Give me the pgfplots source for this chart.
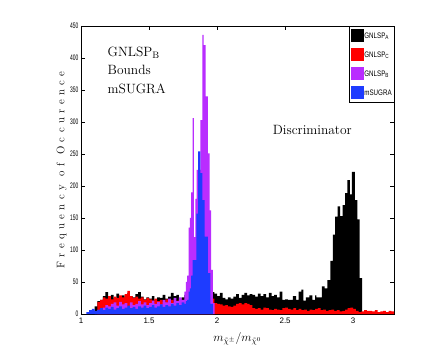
\documentclass[border=0pt]{standalone}
\usepackage{fontspec}
\newfontfamily\hvfont{Liberation Sans}
\newfontfamily\hvnarrow{Liberation Sans}[FakeStretch=0.62]
\newfontfamily\hvleg{Liberation Sans}[FakeStretch=0.78]
\usepackage{pgfplots}
\pgfplotsset{compat=1.18}
\newcommand{\gap}{\hskip 4.4bp}
\newcommand{\wgap}{\hskip 8.5bp}

\definecolor{gnlspa}{RGB}{0,0,0}
\definecolor{gnlspc}{RGB}{255,0,0}
\definecolor{gnlspb}{RGB}{185,45,255}
\definecolor{msugra}{RGB}{30,60,255}

% GNLSP_A
\pgfplotstableread{
x y
1.10 12
1.12 20
1.14 22
1.16 28
1.18 34
1.20 26
1.22 30
1.24 24
1.26 32
1.28 27
1.30 29
1.32 25
1.34 33
1.36 28
1.38 26
1.40 31
1.42 34
1.44 27
1.46 23
1.48 26
1.50 24
1.52 28
1.54 22
1.56 26
1.58 25
1.60 30
1.62 24
1.64 27
1.66 33
1.68 28
1.70 30
1.72 24
1.74 26
1.76 30
1.78 32
1.80 28
1.82 30
1.84 26
1.86 30
1.88 28
1.90 30
1.92 33
1.94 30
1.96 34
1.98 32
2.00 28
2.02 33
2.04 25
2.06 23
2.08 26
2.10 24
2.12 27
2.14 31
2.16 25
2.18 30
2.20 33
2.22 29
2.24 31
2.26 30
2.28 27
2.30 32
2.32 28
2.34 31
2.36 26
2.38 33
2.40 28
2.42 30
2.44 26
2.46 35
2.48 22
2.50 23
2.52 22
2.54 22
2.556 28
2.58 22
2.60 35
2.62 38
2.634 21
2.653 26
2.678 29
2.70 22
2.72 29
2.73 26
2.77 43
2.79 40
2.81 53
2.832 83
2.850 124
2.868 152
2.886 168
2.904 153
2.922 170
2.940 189
2.958 209
2.976 187
2.990 222
3.012 178
3.030 148
3.048 56
3.066 0
}\tableA

% GNLSP_C
\pgfplotstableread{
x y
1.12 19
1.14 22
1.16 26
1.18 24
1.20 28
1.22 23
1.24 27
1.26 25
1.28 29
1.30 26
1.32 31
1.34 36
1.36 28
1.38 25
1.40 27
1.42 24
1.44 26
1.46 22
1.48 25
1.50 23
1.52 21
1.54 24
1.56 20
1.58 22
1.60 19
1.62 23
1.64 20
1.66 22
1.68 18
1.70 21
1.72 24
1.74 20
1.76 22
1.78 19
1.80 20
1.82 18
1.84 20
1.86 17
1.88 19
1.90 18
1.92 20
1.94 19
1.96 24
1.98 17
2.00 16
2.02 15
2.04 13
2.06 14
2.08 12
2.10 11
2.12 13
2.14 16
2.16 17
2.18 15
2.20 17
2.22 16
2.24 14
2.26 9
2.28 8
2.30 9
2.32 7
2.34 10
2.36 9
2.38 7
2.40 6
2.42 8
2.44 7
2.46 6
2.48 9
2.50 10
2.52 8
2.54 7
2.56 9
2.58 6
2.60 8
2.62 6
2.64 7
2.66 5
2.68 7
2.70 6
2.72 8
2.74 9
2.76 6
2.78 7
2.80 5
2.82 6
2.84 7
2.86 5
2.88 6
2.90 4
2.92 5
2.94 7
2.96 9
2.98 10
3.00 8
3.02 5
3.04 3
3.06 4
3.08 6
3.10 5
3.12 5
3.14 4
3.16 6
3.18 3
3.20 4
3.22 5
3.24 3
3.26 5
3.28 4
3.30 0
}\tableC

% GNLSP_B
\pgfplotstableread{
x y
1.10 4
1.12 6
1.14 8
1.16 10
1.18 14
1.20 12
1.22 16
1.24 18
1.26 13
1.28 19
1.30 15
1.32 17
1.34 12
1.36 18
1.38 14
1.40 16
1.42 20
1.44 15
1.46 18
1.48 14
1.50 17
1.52 21
1.54 16
1.56 19
1.58 15
1.60 22
1.62 18
1.64 24
1.66 17
1.68 25
1.70 20
1.72 26
1.74 22
1.76 35
1.77 50
1.78 60
1.79 135
1.80 150
1.81 190
1.82 306
1.83 120
1.84 180
1.85 225
1.86 225
1.877 303
1.891 436
1.901 420
1.916 340
1.933 251
1.945 162
1.957 69
1.969 17
1.982 0
}\tableB

% mSUGRA
\pgfplotstableread{
x y
1.04 3
1.06 6
1.08 8
1.10 5
1.12 7
1.14 9
1.16 6
1.18 10
1.20 8
1.22 11
1.24 7
1.26 9
1.28 12
1.30 8
1.32 10
1.34 13
1.36 9
1.38 11
1.40 8
1.42 12
1.44 10
1.46 13
1.48 9
1.50 11
1.52 14
1.54 10
1.56 12
1.58 15
1.60 11
1.62 14
1.64 12
1.66 16
1.68 13
1.70 17
1.72 14
1.74 18
1.76 16
1.77 20
1.78 22
1.79 35
1.80 40
1.81 60
1.82 84
1.835 84
1.848 157
1.860 254
1.877 220
1.891 178
1.908 121
1.933 64
1.950 16
1.969 0
}\tableM

\begin{document}
\begin{tikzpicture}
\begin{axis}[
  name=ax,
  scale only axis,
  width=313bp, height=288bp,
  xmin=1, xmax=3.3,
  ymin=0, ymax=450,
  xtick={1,1.5,2,2.5,3},
  ytick={0,50,...,450},
  tick align=inside,
  xtick pos=both, ytick pos=both,
  major tick length=4bp,
  axis line style={line width=0.6bp},
  every tick/.style={line width=0.5bp, black},
  /pgf/number format/assume math mode=true,
  xticklabel style={font=\hvfont\fontsize{8}{9}\selectfont},
  yticklabel style={font=\hvnarrow\fontsize{8}{9}\selectfont, xshift=1bp},
  xlabel={$m_{\tilde{\chi}^{\pm}}/m_{\tilde{\chi}^{0}}$},
  xlabel style={at={(axis description cs:0.5,0)}, anchor=center, yshift=-25bp,
    font=\fontsize{11.5}{13}\selectfont},
  ylabel={F\gap r\gap e\gap q\gap u\gap e\gap n\gap c\gap y\wgap o\gap f\wgap
    O\gap c\gap c\gap u\gap r\gap e\gap n\gap c\gap e},
  ylabel style={at={(axis description cs:-0.062,0.5)}, anchor=center,
    font=\fontsize{11}{13}\selectfont},
  legend cell align=left,
  legend image code/.code={\fill[#1] (0bp,-6bp) rectangle (13bp,7bp);},
  legend style={at={(1,1)}, anchor=north east, draw=black, line width=0.5bp,
    fill=white, font=\hvleg\fontsize{8}{9}\selectfont,
    inner xsep=1.5bp, inner ysep=3bp, row sep=6bp,
    nodes={inner sep=0.6bp}},
]
\addplot[const plot, fill=gnlspa, draw=none] table {\tableA} \closedcycle;
\addlegendentry{GNLSP\textsubscript{A}}
\addplot[const plot, fill=gnlspc, draw=none] table {\tableC} \closedcycle;
\addlegendentry{GNLSP\textsubscript{C}}
\addplot[const plot, fill=gnlspb, draw=none] table {\tableB} \closedcycle;
\addlegendentry{GNLSP\textsubscript{B}}
\addplot[const plot, fill=msugra, draw=none] table {\tableM} \closedcycle;
\addlegendentry{mSUGRA}

\node[anchor=north west, align=left, inner sep=0pt,
  font=\fontsize{13.5}{18.5}\selectfont] at (axis cs:1.195,418)
  {GNLSP$_{\mathrm{B}}$\\Bounds\\mSUGRA};
\node[font=\fontsize{13.5}{16}\selectfont] at (axis cs:2.70,287) {Discriminator};
\end{axis}
\pgfresetboundingbox
\path ([xshift=-81bp,yshift=-40bp]ax.south west) rectangle ([xshift=42bp,yshift=26bp]ax.north east);
\end{tikzpicture}
\end{document}
